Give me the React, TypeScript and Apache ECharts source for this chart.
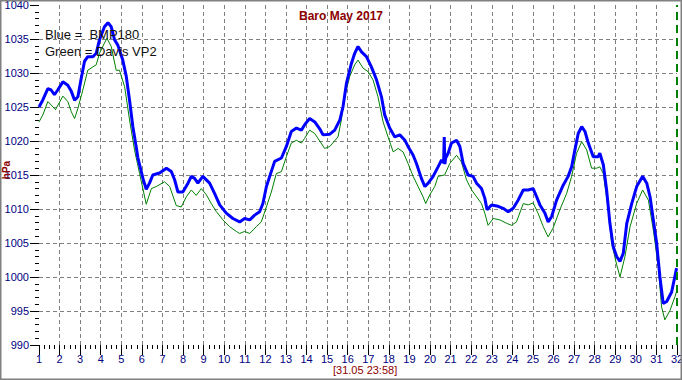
import React, { useEffect, useRef } from "react";
import * as echarts from "echarts";

const titleText = "Baro May 2017";
const legendLines = ["Blue =  BMP180", "Green = Davis VP2"];
const timeStamp = "[31.05 23:58]";
const yName = "hPa";

const blueDays = [1.0, 1.18, 1.43, 1.59, 1.75, 1.91, 2.16, 2.4, 2.57, 2.73, 2.89, 3.05, 3.21, 3.37, 3.62, 3.78, 3.94, 4.18, 4.35, 4.51, 4.67, 4.83, 5.07, 5.24, 5.4, 5.56, 5.73, 5.8, 6.05, 6.21, 6.37, 6.53, 6.86, 7.19, 7.43, 7.59, 7.75, 7.99, 8.24, 8.4, 8.56, 8.72, 8.96, 9.29, 9.53, 9.78, 10.1, 10.42, 10.75, 10.99, 11.24, 11.48, 11.72, 11.88, 12.05, 12.21, 12.45, 12.78, 13.02, 13.26, 13.51, 13.75, 13.91, 14.15, 14.4, 14.64, 14.8, 15.13, 15.37, 15.62, 15.77, 15.94, 16.18, 16.34, 16.5, 16.67, 16.91, 17.15, 17.4, 17.64, 17.8, 18.04, 18.29, 18.53, 18.78, 18.93, 19.18, 19.34, 19.58, 19.75, 19.91, 20.15, 20.39, 20.56, 20.66, 20.69, 20.72, 20.76, 20.88, 21.04, 21.29, 21.45, 21.61, 21.85, 22.09, 22.26, 22.5, 22.66, 22.77, 22.99, 23.31, 23.55, 23.8, 24.04, 24.28, 24.53, 24.77, 25.01, 25.18, 25.34, 25.58, 25.74, 25.91, 26.15, 26.47, 26.71, 26.88, 27.04, 27.2, 27.37, 27.53, 27.69, 27.93, 28.17, 28.25, 28.42, 28.58, 28.74, 28.9, 29.07, 29.23, 29.39, 29.56, 29.8, 30.04, 30.33, 30.53, 30.69, 30.85, 31.01, 31.17, 31.33, 31.5, 31.74, 31.98];
const blueHpa = [1025.0, 1026.0, 1027.7, 1027.5, 1026.8, 1027.5, 1028.7, 1028.2, 1027.3, 1026.0, 1026.5, 1029.2, 1031.7, 1032.4, 1032.4, 1032.9, 1034.9, 1036.8, 1037.4, 1036.8, 1034.9, 1034.1, 1031.9, 1029.5, 1026.0, 1022.1, 1019.0, 1017.6, 1014.5, 1012.9, 1013.8, 1015.0, 1015.3, 1016.0, 1015.5, 1014.3, 1012.5, 1012.5, 1013.8, 1014.8, 1014.5, 1013.8, 1014.8, 1013.8, 1012.3, 1010.6, 1009.4, 1008.6, 1008.1, 1008.6, 1008.4, 1009.1, 1009.6, 1010.8, 1013.3, 1014.8, 1017.0, 1017.5, 1019.2, 1021.4, 1021.9, 1021.6, 1022.4, 1023.3, 1022.8, 1021.8, 1020.9, 1021.0, 1021.6, 1023.1, 1025.0, 1028.5, 1031.4, 1032.9, 1033.9, 1033.1, 1032.4, 1030.9, 1029.0, 1026.5, 1023.8, 1021.9, 1020.6, 1020.9, 1020.1, 1019.2, 1017.9, 1016.7, 1014.5, 1013.3, 1013.8, 1014.8, 1016.2, 1017.2, 1016.8, 1020.6, 1016.6, 1017.5, 1018.2, 1019.7, 1020.1, 1019.2, 1016.7, 1015.0, 1014.8, 1013.8, 1013.0, 1011.6, 1009.9, 1010.6, 1010.4, 1010.1, 1009.6, 1010.1, 1011.3, 1012.8, 1012.8, 1013.0, 1011.8, 1010.6, 1009.4, 1008.1, 1008.9, 1011.3, 1013.5, 1014.8, 1016.2, 1018.7, 1021.1, 1022.1, 1021.4, 1019.7, 1017.7, 1017.7, 1018.2, 1016.5, 1012.8, 1007.9, 1004.5, 1003.0, 1002.3, 1003.5, 1007.9, 1010.8, 1013.3, 1014.8, 1013.8, 1011.8, 1008.4, 1005.0, 1000.0, 996.1, 996.4, 997.8, 1001.3];

const greenDays = [1.0, 1.18, 1.43, 1.59, 1.8, 2.16, 2.4, 2.57, 2.73, 2.89, 3.13, 3.37, 3.62, 3.78, 3.94, 4.18, 4.3, 4.51, 4.75, 4.91, 5.16, 5.4, 5.64, 5.89, 6.21, 6.46, 6.7, 7.1, 7.35, 7.67, 7.91, 8.16, 8.4, 8.64, 8.89, 9.13, 9.37, 9.62, 9.94, 10.26, 10.59, 10.75, 10.99, 11.24, 11.56, 11.8, 12.05, 12.29, 12.53, 12.78, 13.02, 13.26, 13.51, 13.75, 13.91, 14.15, 14.4, 14.64, 14.88, 15.13, 15.53, 15.69, 15.85, 16.1, 16.34, 16.5, 16.75, 16.99, 17.23, 17.47, 17.72, 17.96, 18.21, 18.45, 18.69, 18.93, 19.18, 19.42, 19.66, 19.79, 19.99, 20.23, 20.39, 20.71, 20.96, 21.29, 21.53, 21.77, 22.02, 22.26, 22.5, 22.66, 22.82, 23.07, 23.39, 23.72, 23.96, 24.2, 24.53, 24.77, 25.01, 25.26, 25.5, 25.74, 25.98, 26.31, 26.64, 26.88, 27.12, 27.37, 27.61, 27.85, 28.1, 28.25, 28.42, 28.66, 28.82, 29.07, 29.23, 29.47, 29.72, 30.04, 30.33, 30.61, 30.85, 31.09, 31.25, 31.41, 31.66, 31.9, 32.0];
const greenHpa = [1022.8, 1023.8, 1025.8, 1025.3, 1024.6, 1026.6, 1025.8, 1024.3, 1023.3, 1024.8, 1027.5, 1030.4, 1030.9, 1031.2, 1032.9, 1034.4, 1035.1, 1033.9, 1030.4, 1030.4, 1028.0, 1023.1, 1018.7, 1015.2, 1010.7, 1013.0, 1013.3, 1014.0, 1013.3, 1010.5, 1010.3, 1011.8, 1012.8, 1012.0, 1013.0, 1012.1, 1010.8, 1009.6, 1008.4, 1007.4, 1006.7, 1006.4, 1006.7, 1006.4, 1007.4, 1008.1, 1010.3, 1012.5, 1015.2, 1015.5, 1017.7, 1019.7, 1020.1, 1019.7, 1020.4, 1021.6, 1021.1, 1020.0, 1018.9, 1019.2, 1020.6, 1023.1, 1026.5, 1029.5, 1031.2, 1031.9, 1030.7, 1030.2, 1029.0, 1026.5, 1022.8, 1020.6, 1018.4, 1018.9, 1018.4, 1016.7, 1014.8, 1013.3, 1011.8, 1010.8, 1012.1, 1013.3, 1014.8, 1015.0, 1016.7, 1017.9, 1016.9, 1014.3, 1012.8, 1011.8, 1010.8, 1009.4, 1007.6, 1008.6, 1008.4, 1007.9, 1007.6, 1008.1, 1010.8, 1010.6, 1010.9, 1009.3, 1007.4, 1005.9, 1007.2, 1009.9, 1012.3, 1014.8, 1018.2, 1019.9, 1018.7, 1016.0, 1016.0, 1016.2, 1015.2, 1009.9, 1005.0, 1001.8, 1000.0, 1003.0, 1007.4, 1010.8, 1012.8, 1011.3, 1006.9, 1001.5, 995.6, 993.7, 995.1, 997.1, 998.1];

const dayMin = 1;
const dayMax = 32;
const hpaMin = 990;
const hpaMax = 1040;
const nowDay = 32;

const zip = (xs: number[], ys: number[]) => xs.map((x, i) => [x, ys[i]]);

export default function App() {
  const ref = useRef<HTMLDivElement>(null);
  useEffect(() => {
    if (!ref.current) return;
    const chart = echarts.init(ref.current, undefined, { renderer: "svg" });
    const labelFont = "'Liberation Sans Narrow', 'Arial Narrow', 'Liberation Sans', sans-serif";
    chart.setOption({
      animation: false,
      backgroundColor: "#ffffff",
      title: {
        text: titleText,
        left: "center",
        top: 5,
        textStyle: {
          fontFamily: "'Liberation Sans', Arial, sans-serif",
          fontSize: 12,
          fontWeight: "bold",
          color: "#8b0000",
        },
      },
      grid: { left: 39, right: 5, top: 5, bottom: 35, containLabel: false, outerBoundsMode: "none" },
      xAxis: {
        type: "value",
        min: dayMin,
        max: dayMax,
        interval: 1,
        axisLine: { show: false },
        axisTick: { show: true, length: 10, lineStyle: { color: "#000000" } },
        minorTick: { show: true, splitNumber: 4, length: 4, lineStyle: { color: "#000000" } },
        axisLabel: {
          margin: 10,
          fontFamily: labelFont,
          fontSize: 11,
          lineHeight: 8,
          color: "#000080",
          formatter: (v: number) => String(v),
        },
        splitLine: {
          show: true,
          showMinLine: false,
          showMaxLine: false,
          lineStyle: { color: "#808080", type: [4, 3], width: 1 },
        },
      },
      yAxis: {
        type: "value",
        min: hpaMin,
        max: hpaMax,
        interval: 5,
        axisLine: { show: false },
        axisTick: { show: true, length: 9, lineStyle: { color: "#000000" } },
        minorTick: { show: true, splitNumber: 5, length: 4, lineStyle: { color: "#000000" } },
        axisLabel: {
          margin: 10,
          fontFamily: labelFont,
          fontSize: 11,
          color: "#000080",
          formatter: (v: number) => String(v),
        },
        splitLine: {
          show: true,
          showMinLine: false,
          showMaxLine: false,
          lineStyle: { color: "#808080", type: [4, 3], width: 1 },
        },
      },
      graphic: [
        {
          type: "rect",
          silent: true,
          shape: { x: 0, y: 0, width: 682, height: 380 },
          style: { fill: "none", stroke: "#808080", lineWidth: 3 },
          z: 100,
        },
        {
          type: "text",
          x: 6,
          y: 170,
          rotation: Math.PI / 2,
          style: {
            text: yName,
            fontFamily: "'Liberation Sans', Arial, sans-serif",
            fontSize: 10,
            fontWeight: "bold",
            fill: "#8b0000",
            align: "center",
            verticalAlign: "middle",
          },
          z: 100,
        },
        {
          type: "text",
          left: 45,
          top: 26,
          style: {
            text: legendLines.join("\n"),
            fontFamily: "'Liberation Sans', Arial, sans-serif",
            fontSize: 13,
            lineHeight: 17,
            fill: "#111111",
          },
          z: 100,
        },
        {
          type: "text",
          left: 333,
          top: 364,
          style: {
            text: timeStamp,
            fontFamily: "'Liberation Sans', Arial, sans-serif",
            fontSize: 11,
            lineHeight: 11,
            fill: "#8b0000",
          },
          z: 100,
        },
      ],
      series: [
        {
          type: "line",
          name: "Davis VP2",
          data: zip(greenDays, greenHpa),
          showSymbol: false,
          lineStyle: { color: "#008000", width: 1 },
          z: 2,
        },
        {
          type: "line",
          name: "BMP180",
          data: zip(blueDays, blueHpa),
          showSymbol: false,
          lineStyle: { color: "#0000ff", width: 3 },
          z: 3,
          markLine: {
            silent: true,
            symbol: "none",
            label: { show: false },
            lineStyle: { color: "#008000", type: [8, 5], width: 2 },
            data: [{ xAxis: nowDay }],
          },
        },
      ],
    });
    return () => chart.dispose();
  }, []);
  return (
    <div
      ref={ref}
      style={{ position: "absolute", left: 0, top: 0, width: 682, height: 380 }}
    />
  );
}
